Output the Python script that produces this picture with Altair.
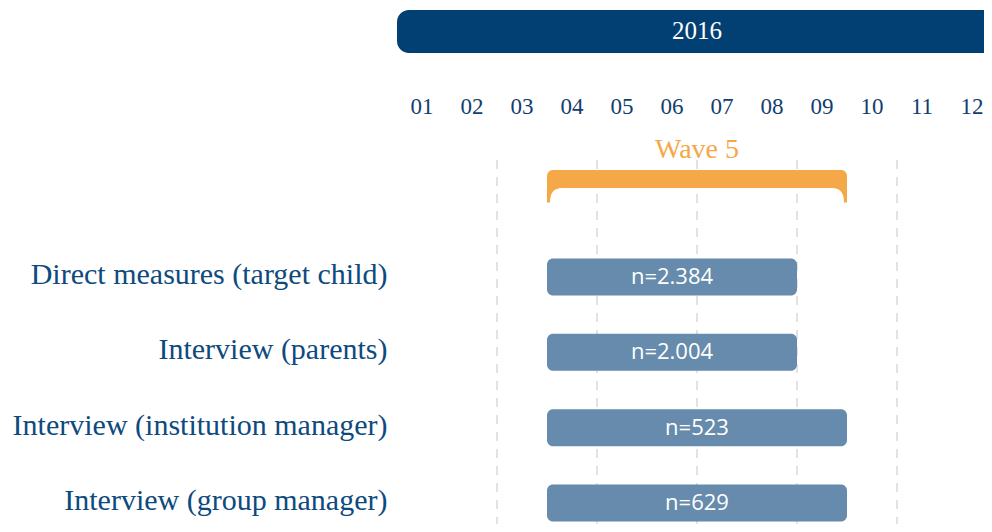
import altair as alt
import pandas as pd

# ---- data ----
tasks = [
    "Direct measures (target child)",
    "Interview (parents)",
    "Interview (institution manager)",
    "Interview (group manager)",
]
task_start = [3, 3, 3, 3]      # month index (0 = start of January)
task_end = [8, 8, 9, 9]        # end of August / end of September
task_n = ["n=2.384", "n=2.004", "n=523", "n=629"]

months = ["01", "02", "03", "04", "05", "06", "07", "08", "09", "10", "11", "12"]
year_label = ["2016"]
year_start = [0]
year_end = [12]

wave_label = ["Wave 5"]
wave_start = [3]
wave_end = [9]

grid_months = [2, 4, 6, 8, 10]

# ---- colours / fonts ----
NAVY = "#023f73"
BAR = "#678bac"
ORANGE = "#f5a847"
LABEL = "#0e4a7e"
SERIF = "Liberation Serif"
SANS = "Open Sans"

bars_df = pd.DataFrame({"task": tasks, "start": task_start, "end": task_end, "n": task_n})
bars_df["mid"] = (bars_df["start"] + bars_df["end"]) / 2
months_df = pd.DataFrame({"m": months, "mid": [i + 0.5 for i in range(len(months))]})
year_df = pd.DataFrame({"label": year_label, "start": year_start, "end": year_end})
year_df["mid"] = (year_df["start"] + year_df["end"]) / 2
wave_df = pd.DataFrame({"label": wave_label, "start": wave_start, "end": wave_end})
wave_df["mid"] = (wave_df["start"] + wave_df["end"]) / 2
grid_df = pd.DataFrame({"g": grid_months})

xscale = alt.Scale(domain=[0, 12], range=[0, 600], nice=False, zero=False)
yscale = alt.Scale(domain=tasks, range=[231.4, 532.6], paddingInner=0.509, paddingOuter=0.2545)

grid = alt.Chart(grid_df).mark_rule(color="#e2e2e2", strokeWidth=2, strokeDash=[9, 8]).encode(
    x=alt.X("g:Q", scale=xscale, axis=None),
    y=alt.value(152),
    y2=alt.value(516),
)

banner = alt.Chart(year_df).mark_bar(color=NAVY, cornerRadius=12).encode(
    x=alt.X("start:Q", scale=xscale, axis=None),
    x2="end:Q",
    y=alt.value(2),
    y2=alt.value(45),
)
banner_text = alt.Chart(year_df).mark_text(
    font=SERIF, fontSize=25, color="white", baseline="middle", align="center"
).encode(x=alt.X("mid:Q", scale=xscale, axis=None), y=alt.value(23), text="label:N")

month_text = alt.Chart(months_df).mark_text(
    font=SERIF, fontSize=23, color="#113e6e", baseline="middle", align="center"
).encode(x=alt.X("mid:Q", scale=xscale, axis=None), y=alt.value(99), text="m:N")

wave_text = alt.Chart(wave_df).mark_text(
    font=SERIF, fontSize=28, color=ORANGE, baseline="middle", align="center"
).encode(x=alt.X("mid:Q", scale=xscale, axis=None), y=alt.value(142), text="label:N")

wave_bar = alt.Chart(wave_df).mark_bar(
    color=ORANGE, cornerRadiusTopLeft=6, cornerRadiusTopRight=6
).encode(
    x=alt.X("start:Q", scale=xscale, axis=None),
    x2="end:Q",
    y=alt.value(162),
    y2=alt.value(180),
)

hook_left = "M0,-0.2 L0,0.96 L0.2,0.96 Q0.2,0 1,0 L1,-0.2 Z"
hook_right = "M0,-0.2 L0,0.96 L-0.2,0.96 Q-0.2,0 -1,0 L-1,-0.2 Z"
wave_hook_l = alt.Chart(wave_df).mark_point(
    shape=hook_left, size=900, filled=True, color=ORANGE, opacity=1, strokeWidth=0
).encode(x=alt.X("start:Q", scale=xscale, axis=None), y=alt.value(180))
wave_hook_r = alt.Chart(wave_df).mark_point(
    shape=hook_right, size=900, filled=True, color=ORANGE, opacity=1, strokeWidth=0
).encode(x=alt.X("end:Q", scale=xscale, axis=None), y=alt.value(180))

yaxis = alt.Axis(
    title=None, ticks=False, domain=False, grid=False,
    labelFont=SERIF, labelFontSize=30, labelColor=LABEL,
    labelPadding=10, labelLimit=420, labelOffset=-2,
)

bars = alt.Chart(bars_df).mark_bar(color=BAR, cornerRadius=6).encode(
    x=alt.X("start:Q", scale=xscale, axis=None),
    x2="end:Q",
    y=alt.Y("task:N", scale=yscale, axis=yaxis, sort=tasks),
)
bar_text = alt.Chart(bars_df).mark_text(
    font=SANS, fontSize=22, color="white", baseline="middle", align="center"
).encode(
    x=alt.X("mid:Q", scale=xscale, axis=None),
    y=alt.Y("task:N", scale=yscale, axis=yaxis, sort=tasks),
    text="n:N",
)

chart = alt.layer(
    grid, banner, banner_text, month_text, wave_bar, wave_hook_l, wave_hook_r, wave_text,
    bars, bar_text,
).properties(
    width=587,
    height=516,
    autosize=alt.AutoSizeParams(type="none"),
    padding={"left": 389, "top": 0, "right": 0, "bottom": 0},
).configure_view(stroke=None)

chart.save("out.html", embed_options={"renderer": "svg", "actions": False})
